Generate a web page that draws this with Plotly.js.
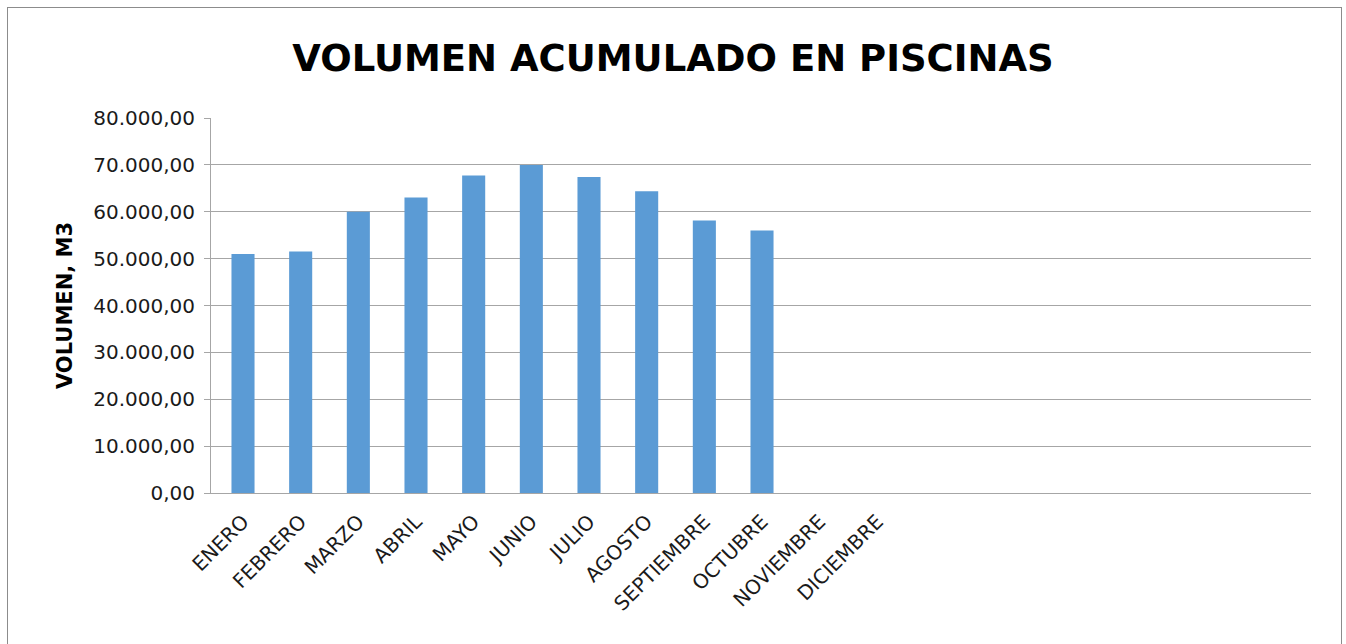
<!DOCTYPE html>
<html>
<head>
<meta charset="utf-8">
<script src="https://cdn.plot.ly/plotly-3.0.1.min.js"></script>
<style>
  html, body { margin: 0; padding: 0; background: #fff; }
  #chart { position: absolute; left: 0; top: 0; width: 1346px; height: 644px; }
  #frame { position: absolute; left: 7px; top: 7px; width: 1333px; height: 660px; border: 1px solid #8c8c8c; pointer-events: none; }
</style>
</head>
<body>
<div id="chart"></div>
<div id="frame"></div>
<script>
// Data
const months = ["ENERO", "FEBRERO", "MARZO", "ABRIL", "MAYO", "JUNIO", "JULIO",
                "AGOSTO", "SEPTIEMBRE", "OCTUBRE", "NOVIEMBRE", "DICIEMBRE"];
const volumen = [51000, 51500, 60000, 63050, 67750, 70000, 67400,
                 64400, 58150, 56000, null, null];
const yTicks = [0, 10000, 20000, 30000, 40000, 50000, 60000, 70000, 80000];

const trace = {
  type: "bar",
  x: months,
  y: volumen,
  marker: { color: "#5b9bd5", line: { color: "#5b9bd5", width: 0 } },
  hoverinfo: "x+y"
};

const layout = {
  width: 1346,
  height: 644,
  margin: { l: 211, r: 35, t: 118, b: 151 },
  paper_bgcolor: "#ffffff",
  plot_bgcolor: "#ffffff",
  separators: ",.",
  showlegend: false,
  bargap: 0.6,
  title: {
    text: "<b>VOLUMEN ACUMULADO EN PISCINAS</b>",
    font: { family: "DejaVu Sans", size: 37, color: "#000000" },
    x: 0.5, xref: "container", xanchor: "center",
    y: 1 - 58 / 644, yref: "container", yanchor: "middle"
  },
  xaxis: {
    type: "category",
    categoryorder: "array",
    categoryarray: months,
    range: [-0.555, 18.52],
    tickangle: -45,
    tickfont: { family: "DejaVu Sans", size: 20, color: "#1a1a1a" },
    ticklabelstandoff: 8,
    showgrid: false,
    showline: true,
    linecolor: "#a6a6a6",
    linewidth: 1,
    ticks: "",
    zeroline: false,
    fixedrange: true
  },
  yaxis: {
    range: [0, 80000],
    tickvals: yTicks,
    tickformat: ",.2f",
    tickfont: { family: "DejaVu Sans", size: 20, color: "#1a1a1a" },
    ticklabelstandoff: 5,
    ticks: "outside",
    ticklen: 6,
    tickcolor: "#a6a6a6",
    showline: true,
    linecolor: "#a6a6a6",
    linewidth: 1,
    showgrid: true,
    gridcolor: "#a6a6a6",
    gridwidth: 1,
    zeroline: false,
    automargin: false,
    title: {
      text: "<b>VOLUMEN, M3</b>",
      font: { family: "DejaVu Sans", size: 21, color: "#000000" },
      standoff: 14
    },
    fixedrange: true
  }
};

Plotly.newPlot("chart", [trace], layout, { displayModeBar: false, staticPlot: true });
</script>
</body>
</html>
